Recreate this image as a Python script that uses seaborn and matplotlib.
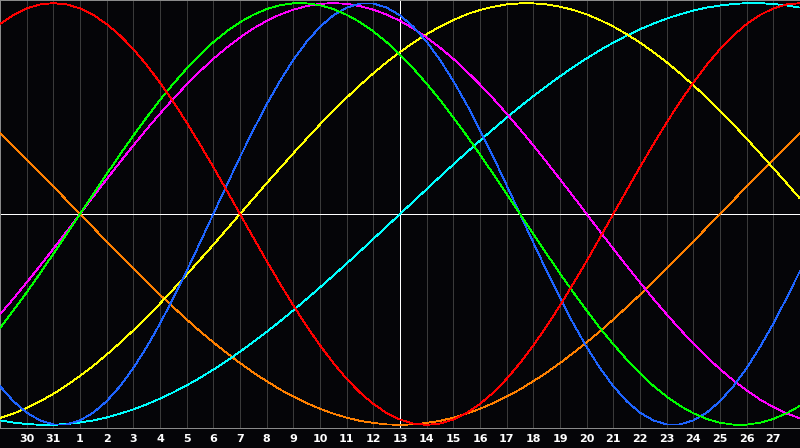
import matplotlib
matplotlib.use("Agg")
import matplotlib.pyplot as plt
import seaborn as sns
import pandas as pd
import numpy as np

# day offsets (day "1" of the month = 0); the window runs from -3 to 27
tick_days = list(range(-2, 27))
tick_labels = ["30", "31"] + [str(i) for i in range(1, 28)]
today = 12

# curve values: on each whole day (-3 .. 27) ...
orange = [0.383, 0.259, 0.131, 0.0, -0.131, -0.259, -0.383, -0.5, -0.609, -0.707,
          -0.793, -0.866, -0.924, -0.966, -0.991, -1.0, -0.991, -0.966, -0.924, -0.866,
          -0.793, -0.707, -0.609, -0.5, -0.383, -0.259, -0.131, 0.0, 0.131, 0.259, 0.383]
cyan = [-0.979, -0.996, -1.0, -0.989, -0.965, -0.927, -0.876, -0.813, -0.738, -0.653,
        -0.559, -0.457, -0.348, -0.235, -0.118, 0.0, 0.118, 0.235, 0.348, 0.457,
        0.559, 0.653, 0.738, 0.813, 0.876, 0.927, 0.965, 0.989, 1.0, 0.996, 0.979]
yellow = [-0.968, -0.920, -0.853, -0.768, -0.667, -0.552, -0.425, -0.288, -0.146, 0.0,
          0.146, 0.288, 0.425, 0.552, 0.667, 0.768, 0.853, 0.920, 0.968, 0.994,
          0.999, 0.983, 0.947, 0.889, 0.813, 0.720, 0.611, 0.489, 0.357, 0.217, 0.073]
magenta = [-0.476, -0.325, -0.165, 0.0, 0.165, 0.325, 0.476, 0.614, 0.736, 0.837,
           0.916, 0.969, 0.997, 0.997, 0.969, 0.916, 0.837, 0.736, 0.614, 0.476,
           0.325, 0.165, 0.0, -0.165, -0.325, -0.476, -0.614, -0.736, -0.837, -0.916, -0.969]
blue = [-0.817, -0.942, -0.998, -0.979, -0.888, -0.731, -0.520, -0.270, 0.0, 0.270,
        0.520, 0.731, 0.888, 0.979, 0.998, 0.942, 0.817, 0.631, 0.398, 0.136,
        -0.136, -0.398, -0.631, -0.817, -0.942, -0.998, -0.979, -0.888, -0.731, -0.520, -0.270]
green = [-0.541, -0.372, -0.189, 0.0, 0.189, 0.372, 0.541, 0.690, 0.815, 0.910,
         0.972, 0.999, 0.990, 0.945, 0.866, 0.756, 0.618, 0.458, 0.282, 0.095,
         -0.095, -0.282, -0.458, -0.618, -0.756, -0.866, -0.945, -0.990, -0.999, -0.972, -0.910]
red = [0.901, 0.975, 1.0, 0.975, 0.901, 0.782, 0.623, 0.434, 0.223, 0.0,
       -0.223, -0.434, -0.623, -0.782, -0.901, -0.975, -1.0, -0.975, -0.901, -0.782,
       -0.623, -0.434, -0.223, 0.0, 0.223, 0.434, 0.623, 0.782, 0.901, 0.975, 1.0]

# ... and at each half day (-2.5 .. 26.5)
orange_half = [0.321, 0.195, 0.065, -0.065, -0.195, -0.321, -0.442, -0.556, -0.659, -0.752,
               -0.832, -0.897, -0.947, -0.981, -0.998, -0.998, -0.981, -0.947, -0.897, -0.832,
               -0.752, -0.659, -0.556, -0.442, -0.321, -0.195, -0.065, 0.065, 0.195, 0.321]
cyan_half = [-0.989, -1.0, -0.996, -0.979, -0.947, -0.903, -0.846, -0.777, -0.697, -0.607,
             -0.509, -0.403, -0.292, -0.177, -0.059, 0.059, 0.177, 0.292, 0.403, 0.509,
             0.607, 0.697, 0.777, 0.846, 0.903, 0.947, 0.979, 0.996, 1.0, 0.989]
yellow_half = [-0.947, -0.889, -0.813, -0.720, -0.611, -0.489, -0.357, -0.217, -0.073, 0.073,
               0.217, 0.357, 0.489, 0.611, 0.720, 0.813, 0.889, 0.947, 0.983, 0.999,
               0.994, 0.968, 0.920, 0.853, 0.768, 0.667, 0.552, 0.425, 0.288, 0.146]
magenta_half = [-0.402, -0.246, -0.083, 0.083, 0.246, 0.402, 0.547, 0.677, 0.789, 0.880,
                0.946, 0.986, 1.0, 0.986, 0.946, 0.880, 0.789, 0.677, 0.547, 0.402,
                0.246, 0.083, -0.083, -0.246, -0.402, -0.547, -0.677, -0.789, -0.880, -0.946]
blue_half = [-0.888, -0.979, -0.998, -0.942, -0.817, -0.631, -0.398, -0.136, 0.136, 0.398,
             0.631, 0.817, 0.942, 0.998, 0.979, 0.888, 0.731, 0.520, 0.270, 0.0,
             -0.270, -0.520, -0.731, -0.888, -0.979, -0.998, -0.942, -0.817, -0.631, -0.398]
green_half = [-0.458, -0.282, -0.095, 0.095, 0.282, 0.458, 0.618, 0.756, 0.866, 0.945,
              0.990, 0.999, 0.972, 0.910, 0.815, 0.690, 0.541, 0.372, 0.189, 0.0,
              -0.189, -0.372, -0.541, -0.690, -0.815, -0.910, -0.972, -0.999, -0.990, -0.945]
red_half = [0.944, 0.994, 0.994, 0.944, 0.847, 0.707, 0.532, 0.330, 0.112, -0.112,
            -0.330, -0.532, -0.707, -0.847, -0.944, -0.994, -0.994, -0.944, -0.847, -0.707,
            -0.532, -0.330, -0.112, 0.112, 0.330, 0.532, 0.707, 0.847, 0.944, 0.994]

series = {"orange": (orange, orange_half), "cyan": (cyan, cyan_half),
          "yellow": (yellow, yellow_half), "magenta": (magenta, magenta_half),
          "blue": (blue, blue_half), "green": (green, green_half), "red": (red, red_half)}
palette = {"orange": "#ff8000", "cyan": "#00ffff", "yellow": "#ffff00",
           "magenta": "#ff00ff", "blue": "#1e64ff", "green": "#00ff00",
           "red": "#ff0000"}

positions = np.arange(-3, 27.01, 0.5)
rows = []
for name, (whole, half) in series.items():
    merged = [v for pair in zip(whole[:-1], half) for v in pair] + [whole[-1]]
    for d, v in zip(positions, merged):
        rows.append({"day": d, "value": v, "cycle": name})
df = pd.DataFrame(rows)

sns.set_style("dark")
plt.rcParams["font.family"] = ["DejaVu Sans"]

bg = "#050508"
fig = plt.figure(figsize=(8, 4.48), dpi=100, facecolor=bg)
ax = fig.add_axes([0, 20 / 448, 1, 428 / 448])
ax.set_facecolor(bg)

for d in range(-3, 28):
    ax.axvline(d, color="#3a3a3a", lw=0.72, zorder=1, antialiased=False)
ax.axhline(0, color="white", lw=0.7, zorder=2, antialiased=False)
ax.axvline(today, color="white", lw=0.7, zorder=2, antialiased=False)

n_before = len(ax.lines)
sns.lineplot(data=df, x="day", y="value", hue="cycle", hue_order=list(series),
             palette=palette, estimator=None, ax=ax, legend=False)
for ln in ax.lines[n_before:]:
    ln.set_linewidth(0.6)
    ln.set_antialiased(False)
    ln.set_zorder(3)

ax.set_xlim(-3, 27)
ax.set_ylim(-1.015, 1.015)
ax.set_xticks(tick_days)
ax.set_xticklabels(tick_labels, color="white", fontsize=8, fontweight="bold")
ax.tick_params(axis="x", length=0, pad=4)
ax.set_yticks([])
ax.set_xlabel("")
ax.set_ylabel("")
ax.grid(False)
for s in ax.spines.values():
    s.set_visible(True)
    s.set_color("#8a8a8a")
    s.set_linewidth(0.72)

fig.savefig("out.png", dpi=100, facecolor=bg)
